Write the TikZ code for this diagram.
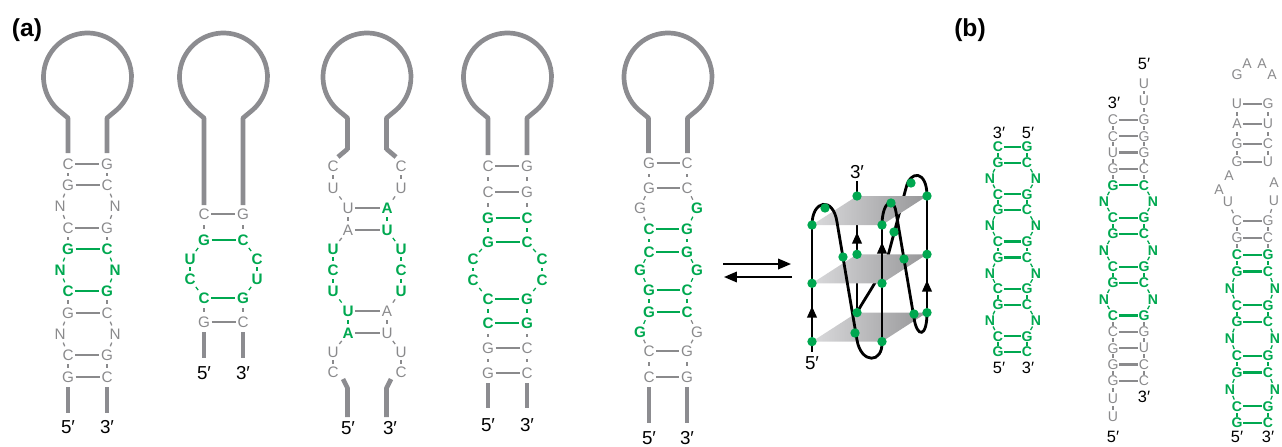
\documentclass[tikz,border=0pt]{standalone}
\usepackage{fontspec}
\setmainfont{Liberation Sans}
\usetikzlibrary{arrows.meta}

\definecolor{ntgray}{RGB}{138,138,140}
\definecolor{stemgray}{RGB}{140,140,144}
\definecolor{ntgreen}{RGB}{0,168,80}
\definecolor{sheetdark}{RGB}{150,150,152}
\definecolor{sheetlight}{RGB}{218,218,220}

% hairpin loop with its neck: #1 = centre x, #2 = lower end of the neck
\newcommand\hploop[2]{%
  \draw[stem] (#1-19.5,#2) -- (#1-19.5,118) -- ([shift={(228:1.32cm)}]#1,77)
    arc[start angle=228, end angle=-48, radius=1.32cm] -- (#1+19.5,118) -- (#1+19.5,#2);}
% backbone ticks down one column: #1 = column prefix, #2 = index/colour list
\newcommand\backbone[2]{%
  \foreach \i/\c in {#2} {\pgfmathtruncatemacro\j{\i+1}
    \path (#1\i) -- (#1\j) node[midway,tick,\c]{};}}
% base pair bonds: #1 = helix prefix, #2 = index/colour list
\newcommand\pairs[3][bond]{%
  \foreach \i/\c in {#3} {\draw[#1,\c] (#2a\i) -- (#2b\i);}}

\tikzset{
  nt/.style={inner sep=0.5pt, text=ntgray, font=\fontsize{13}{13}\selectfont},
  ntb/.style={inner sep=0.5pt, text=ntgray, font=\fontsize{12}{12}\selectfont},
  gy/.style={},
  gn/.style={text=ntgreen, font=\fontsize{13}{13}\selectfont\bfseries},
  gnb/.style={text=ntgreen, font=\fontsize{12}{12}\selectfont\bfseries},
  bond/.style={line width=1.6pt, shorten <=0.8pt, shorten >=0.8pt},
  bondb/.style={line width=2pt},
  tick/.style={fill, sloped, inner sep=0pt, minimum width=3.4pt, minimum height=1.1pt},
  stem/.style={line width=4pt, stemgray, line join=round},
  endlab/.style={inner sep=0pt, font=\fontsize{16}{16}\selectfont},
  endlabb/.style={inner sep=0pt, font=\fontsize{14}{14}\selectfont},
  panel/.style={font=\fontsize{21}{21}\selectfont\bfseries},
  gdot/.style={circle, fill=ntgreen, inner sep=0pt, minimum size=8pt},
  strand/.style={line width=2.4pt, black},
  upmark/.style={-{Triangle[length=10pt,width=8pt]}},
  eqarrow/.style={line width=1.5pt, -{Triangle[length=11pt,width=9pt]}},
}

\begin{document}
\begin{tikzpicture}[x=0.03cm, y=-0.03cm]
\useasboundingbox (0,0) rectangle (1282,447);

\node[panel] (pa) at (27,30) {(a)};
\node[panel] (pb) at (970,30) {(b)};

%% ---------------- hairpin 1
\hploop{87.5}{153}
\foreach \i/\y/\xa/\a/\sa/\xb/\b/\sb in {
  1/164/68/C/gy/107/G/gy, 2/185/68/G/gy/107/C/gy, 3/206/60/N/gy/115/N/gy,
  4/228/68/C/gy/107/G/gy, 5/249/68/G/gn/107/C/gn, 6/270/60/N/gn/115/N/gn,
  7/291/68/C/gn/107/G/gn, 8/313/68/G/gy/107/C/gy, 9/334/60/N/gy/115/N/gy,
  10/355/68/C/gy/107/G/gy, 11/377/68/G/gy/107/C/gy}
{
  \node[nt,\sa] (p1a\i) at (\xa,\y) {\a};
  \node[nt,\sb] (p1b\i) at (\xb,\y) {\b};
}
\pairs{p1}{1/ntgray,2/ntgray,4/ntgray,5/ntgreen,7/ntgreen,8/ntgray,10/ntgray,11/ntgray}
\backbone{p1a}{1/ntgray,2/ntgray,3/ntgray,4/ntgray,5/ntgreen,6/ntgreen,7/ntgray,8/ntgray,9/ntgray,10/ntgray}
\backbone{p1b}{1/ntgray,2/ntgray,3/ntgray,4/ntgray,5/ntgreen,6/ntgreen,7/ntgray,8/ntgray,9/ntgray,10/ntgray}
\node[endlab] (p1five) at (68,427) {5′};
\node[endlab] (p1three) at (107,427) {3′};
\draw[stem] (68,387) -- (68,413) (107,387) -- (107,413);

%% ---------------- hairpin 2
\hploop{223.5}{205}
\foreach \i/\y/\xa/\a/\sa/\xb/\b/\sb in {
  1/214/204/C/gy/243/G/gy, 2/240/204/G/gn/243/C/gn, 3/259/190/U/gn/257/C/gn,
  4/279/190/C/gn/257/U/gn, 5/298/204/C/gn/243/G/gn, 6/322/204/G/gy/243/C/gy}
{
  \node[nt,\sa] (p2a\i) at (\xa,\y) {\a};
  \node[nt,\sb] (p2b\i) at (\xb,\y) {\b};
}
\pairs{p2}{1/ntgray,2/ntgreen,5/ntgreen,6/ntgray}
\backbone{p2a}{1/ntgray,2/ntgreen,3/ntgreen,4/ntgreen,5/ntgray}
\backbone{p2b}{1/ntgray,2/ntgreen,3/ntgreen,4/ntgreen,5/ntgray}
\node[endlab] (p2five) at (204,373) {5′};
\node[endlab] (p2three) at (243,373) {3′};
\draw[stem] (204,332) -- (204,358) (243,332) -- (243,358);

%% ---------------- hairpin 3 (neck opens out)
\hploop{367}{150}
\draw[stem] (347.5,149) -- (338,157) (386.5,149) -- (396,157);
\foreach \i/\y/\xa/\a/\sa/\xb/\b/\sb in {
  1/166/333/C/gy/401/C/gy, 2/188/333/U/gy/401/U/gy, 3/208/348/U/gy/387/A/gn,
  4/230/348/A/gy/387/U/gn, 5/249/333/U/gn/401/U/gn, 6/270/333/C/gn/401/C/gn,
  7/291/333/U/gn/401/U/gn, 8/311/348/U/gn/387/A/gy, 9/333/348/A/gn/387/U/gy,
  10/352/333/U/gy/401/U/gy, 11/372/333/C/gy/401/C/gy}
{
  \node[nt,\sa] (p3a\i) at (\xa,\y) {\a};
  \node[nt,\sb] (p3b\i) at (\xb,\y) {\b};
}
\pairs{p3}{3/ntgray,4/ntgray,8/ntgray,9/ntgray}
\backbone{p3a}{1/ntgray,2/ntgray,3/ntgray,4/ntgray,5/ntgreen,6/ntgreen,7/ntgreen,8/ntgreen,9/ntgray,10/ntgray}
\backbone{p3b}{1/ntgray,2/ntgray,3/ntgreen,4/ntgreen,5/ntgreen,6/ntgreen,7/ntgray,8/ntgray,9/ntgray,10/ntgray}
\node[endlab] (p3five) at (348,428) {5′};
\node[endlab] (p3three) at (390,428) {3′};
\draw[stem] (343,379) -- (347.5,388) -- (347.5,417) (391,379) -- (386.5,388) -- (386.5,417);

%% ---------------- hairpin 4
\hploop{507.5}{155}
\foreach \i/\y/\xa/\a/\sa/\xb/\b/\sb in {
  1/166/488/C/gy/527/G/gy, 2/192/488/C/gy/527/G/gy, 3/218/488/G/gn/527/C/gn,
  4/242/488/G/gn/527/C/gn, 5/259/473/C/gn/542/C/gn, 6/280/473/C/gn/542/C/gn,
  7/299/488/C/gn/527/G/gn, 8/323/488/C/gn/527/G/gn, 9/348/488/G/gy/527/C/gy,
  10/373/488/G/gy/527/C/gy}
{
  \node[nt,\sa] (p4a\i) at (\xa,\y) {\a};
  \node[nt,\sb] (p4b\i) at (\xb,\y) {\b};
}
\pairs{p4}{1/ntgray,2/ntgray,3/ntgreen,4/ntgreen,7/ntgreen,8/ntgreen,9/ntgray,10/ntgray}
\backbone{p4a}{1/ntgray,2/ntgray,3/ntgreen,4/ntgreen,5/ntgreen,6/ntgreen,7/ntgreen,8/ntgray,9/ntgray}
\backbone{p4b}{1/ntgray,2/ntgray,3/ntgreen,4/ntgreen,5/ntgreen,6/ntgreen,7/ntgreen,8/ntgray,9/ntgray}
\node[endlab] (p4five) at (488,425) {5′};
\node[endlab] (p4three) at (527,425) {3′};
\draw[stem] (488,383) -- (488,408) (527,383) -- (527,408);

%% ---------------- hairpin 5
\hploop{668}{153}
\foreach \i/\y/\xa/\a/\sa/\xb/\b/\sb in {
  1/163/649/G/gy/687/C/gy, 2/188/649/G/gy/687/C/gy, 3/208/640/G/gy/697/G/gn,
  4/229/649/C/gn/687/G/gn, 5/252/649/C/gn/687/G/gn, 6/270/640/G/gn/697/G/gn,
  7/290/649/G/gn/687/C/gn, 8/312/649/G/gn/687/C/gn, 9/332/640/G/gn/697/G/gy,
  10/351/649/C/gy/687/G/gy, 11/377/649/C/gy/687/G/gy}
{
  \node[nt,\sa] (p5a\i) at (\xa,\y) {\a};
  \node[nt,\sb] (p5b\i) at (\xb,\y) {\b};
}
\pairs{p5}{1/ntgray,2/ntgray,4/ntgreen,5/ntgreen,7/ntgreen,8/ntgreen,10/ntgray,11/ntgray}
\backbone{p5a}{1/ntgray,2/ntgray,3/ntgray,4/ntgreen,5/ntgreen,6/ntgreen,7/ntgreen,8/ntgreen,9/ntgray,10/ntgray}
\backbone{p5b}{1/ntgray,2/ntgray,3/ntgreen,4/ntgreen,5/ntgreen,6/ntgreen,7/ntgreen,8/ntgray,9/ntgray,10/ntgray}
\node[endlab] (p5five) at (649,438) {5′};
\node[endlab] (p5three) at (687,438) {3′};
\draw[stem] (649,387) -- (649,423) (687,387) -- (687,423);

%% ---------------- equilibrium
\coordinate (eqa) at (723,264);
\coordinate (eqb) at (791,264);
\coordinate (eqc) at (792,277);
\coordinate (eqd) at (724,277);
\draw[eqarrow] (eqa) -- (eqb);
\draw[eqarrow] (eqc) -- (eqd);

%% ---------------- G-quadruplex
\foreach \k in {0,1,2} {
  \coordinate (fl\k) at (812,225+58.3*\k);
  \coordinate (fr\k) at (882,225+58.3*\k);
  \coordinate (bl\k) at (857,196+58.3*\k);
  \coordinate (br\k) at (927,196+58.3*\k);
}
% strands behind the tetrads
\draw[strand] (bl2) -- (bl0) -- (857,181);
\draw[strand] (br0) .. controls (927,170) and (910,170) .. (906,188) -- (889,252)
  .. controls (884,272) and (866,296) .. (bl2);
\foreach \k in {2,1,0}
  \path[left color=sheetlight, right color=sheetdark] (fl\k) -- (fr\k) -- (br\k) -- (bl\k) -- cycle;
\draw[strand,upmark] (857,250) -- (857,232);
% strands in front
\draw[strand] (812,352) -- (fl0);
\draw[strand] (fr2) -- (fr0);
\draw[strand] (br2) -- (br0);
\draw[strand] (fl0) .. controls (812,200) and (833,196) .. (837,222) -- (857,340)
  .. controls (861,364) and (883,364) .. (fr2);
\draw[strand] (fr0) .. controls (882,203) and (893,194) .. (896,212) -- (914,318)
  .. controls (917,338) and (927,338) .. (br2);
\draw[strand,upmark] (812,326) -- (812,306);
\draw[strand,upmark] (882,264) -- (882,242);
\draw[strand,upmark] (927,300) -- (927,280);
\foreach \p in {fl0,fl1,fl2,fr0,fr1,fr2,bl0,bl1,bl2,br0,br1,br2}
  \node[gdot] (d\p) at (\p) {};
\foreach \n/\x/\y in {la/825/208, lb/843/257, lc/855/333, ma/891/203, mb/894/232,
  mc/914/314, na/911/183, nb/904/259}
  \node[gdot] (d\n) at (\x,\y) {};
\node[endlab] (qthree) at (857,172) {3′};
\node[endlab] (qfive) at (812,363) {5′};

%% ---------------- panel b, duplex 1
\foreach \i/\y/\xa/\a/\xb/\b in {
  1/147/998/C/1027/G, 2/162.8/998/G/1027/C, 3/178.5/990/N/1036/N,
  4/194.3/998/C/1027/G, 5/210.1/998/G/1027/C, 6/225.9/990/N/1036/N,
  7/241.6/998/C/1027/G, 8/257.4/998/G/1027/C, 9/273.2/990/N/1036/N,
  10/288.9/998/C/1027/G, 11/304.7/998/G/1027/C, 12/320.5/990/N/1036/N,
  13/336.2/998/C/1027/G, 14/352/998/G/1027/C}
{
  \node[ntb,gnb] (q1a\i) at (\xa,\y) {\a};
  \node[ntb,gnb] (q1b\i) at (\xb,\y) {\b};
}
\pairs[bondb]{q1}{1/ntgreen,2/ntgreen,4/ntgreen,5/ntgreen,7/ntgreen,8/ntgreen,
  10/ntgreen,11/ntgreen,13/ntgreen,14/ntgreen}
\backbone{q1a}{1/ntgreen,2/ntgreen,3/ntgreen,4/ntgreen,5/ntgreen,6/ntgreen,7/ntgreen,
  8/ntgreen,9/ntgreen,10/ntgreen,11/ntgreen,12/ntgreen,13/ntgreen}
\backbone{q1b}{1/ntgreen,2/ntgreen,3/ntgreen,4/ntgreen,5/ntgreen,6/ntgreen,7/ntgreen,
  8/ntgreen,9/ntgreen,10/ntgreen,11/ntgreen,12/ntgreen,13/ntgreen}
\node[endlabb] at (999,133) {3′};
\node[endlabb] at (1028,133) {5′};
\node[endlabb] at (999,368) {5′};
\node[endlabb] at (1028,368) {3′};

%% ---------------- panel b, duplex 2
\foreach \i/\y/\xa/\a/\sa/\xb/\b/\sb in {
  1/120/1113/C/gy/1144/G/gy, 2/136.3/1113/C/gy/1144/G/gy, 3/152.6/1113/U/gy/1144/G/gy,
  4/168.9/1113/G/gy/1144/C/gy, 5/185.2/1113/G/gnb/1144/C/gnb, 6/201.5/1104/N/gnb/1153/N/gnb,
  7/217.8/1113/C/gnb/1144/G/gnb, 8/234.1/1113/G/gnb/1144/C/gnb, 9/250.4/1104/N/gnb/1153/N/gnb,
  10/266.7/1113/C/gnb/1144/G/gnb, 11/283/1113/G/gnb/1144/C/gnb, 12/299.3/1104/N/gnb/1153/N/gnb,
  13/315.6/1113/C/gnb/1144/G/gnb, 14/331.9/1113/C/gy/1144/G/gy, 15/348.2/1113/G/gy/1144/U/gy,
  16/364.5/1113/G/gy/1144/C/gy, 17/380.8/1113/G/gy/1144/C/gy}
{
  \node[ntb,\sa] (q2a\i) at (\xa,\y) {\a};
  \node[ntb,\sb] (q2b\i) at (\xb,\y) {\b};
}
\node[ntb] (q2b0) at (1144,101) {U};
\node[ntb] (q2bu) at (1144,84) {U};
\node[ntb] (q2a18) at (1113,399) {U};
\node[ntb] (q2a19) at (1113,417) {U};
\pairs[bondb]{q2}{1/ntgray,2/ntgray,3/ntgray,4/ntgray,5/ntgreen,7/ntgreen,8/ntgreen,
  10/ntgreen,11/ntgreen,13/ntgreen,14/ntgray,15/ntgray,16/ntgray,17/ntgray}
\backbone{q2a}{1/ntgray,2/ntgray,3/ntgray,4/ntgray,5/ntgreen,6/ntgreen,7/ntgreen,8/ntgreen,
  9/ntgreen,10/ntgreen,11/ntgreen,12/ntgreen,13/ntgray,14/ntgray,15/ntgray,16/ntgray,
  17/ntgray,18/ntgray}
\backbone{q2b}{0/ntgray,1/ntgray,2/ntgray,3/ntgray,4/ntgray,5/ntgreen,6/ntgreen,7/ntgreen,8/ntgreen,
  9/ntgreen,10/ntgreen,11/ntgreen,12/ntgreen,13/ntgray,14/ntgray,15/ntgray,16/ntgray}
\path (q2bu) -- (q2b0) node[midway,tick,ntgray]{};
\node[endlabb] at (1144,64) {5′};
\node[endlabb] at (1114,103) {3′};
\node[endlabb] at (1144,397) {3′};
\node[endlabb] at (1113,437) {5′};

%% ---------------- panel b, duplex 3
\foreach \i/\y/\xa/\a/\sa/\xb/\b/\sb in {
  1/221/1237/C/gy/1268/G/gy, 2/237.8/1237/G/gy/1268/C/gy, 3/254.7/1237/C/gnb/1268/G/gnb,
  4/271.5/1237/G/gnb/1268/C/gnb, 5/288.3/1230/N/gnb/1275/N/gnb, 6/305.2/1237/C/gnb/1268/G/gnb,
  7/322/1237/G/gnb/1268/C/gnb, 8/338.8/1230/N/gnb/1275/N/gnb, 9/355.7/1237/C/gnb/1268/G/gnb,
  10/372.5/1237/G/gnb/1268/C/gnb, 11/389.3/1230/N/gnb/1275/N/gnb, 12/406.2/1237/C/gnb/1268/G/gnb,
  13/423/1237/G/gnb/1268/C/gnb}
{
  \node[ntb,\sa] (q3a\i) at (\xa,\y) {\a};
  \node[ntb,\sb] (q3b\i) at (\xb,\y) {\b};
}
\pairs[bondb]{q3}{1/ntgray,2/ntgray,3/ntgreen,4/ntgreen,6/ntgreen,7/ntgreen,9/ntgreen,
  10/ntgreen,12/ntgreen,13/ntgreen}
\backbone{q3a}{1/ntgray,2/ntgray,3/ntgreen,4/ntgreen,5/ntgreen,6/ntgreen,7/ntgreen,8/ntgreen,
  9/ntgreen,10/ntgreen,11/ntgreen,12/ntgreen}
\backbone{q3b}{1/ntgray,2/ntgray,3/ntgreen,4/ntgreen,5/ntgreen,6/ntgreen,7/ntgreen,8/ntgreen,
  9/ntgreen,10/ntgreen,11/ntgreen,12/ntgreen}
% internal loop and upper hairpin
\foreach \n/\x/\y/\a in {q3a0/1228/202/U, q3ay/1219/190/A, q3ax/1229/176/A,
  q3b0/1274/201/U, q3by/1274/183/A,
  q3c4/1237/162/G, q3c3/1237/144/G, q3c2/1237/124/A, q3c1/1237/104/U,
  q3d4/1268/162/U, q3d3/1268/144/C, q3d2/1268/124/U, q3d1/1268/104/G,
  q3ha/1237/75/G, q3hb/1247/64/A, q3hc/1262/64/A, q3hd/1272/75/A}
  \node[ntb] (\n) at (\x,\y) {\a};
\foreach \i in {1,...,4} \draw[bondb,ntgray] (q3c\i) -- (q3d\i);
\backbone{q3c}{1/ntgray,2/ntgray,3/ntgray}
\backbone{q3d}{1/ntgray,2/ntgray,3/ntgray}
\path (q3a0) -- (q3a1) node[midway,tick,ntgray]{} (q3b0) -- (q3b1) node[midway,tick,ntgray]{};
\node[endlabb] at (1237,437) {5′};
\node[endlabb] at (1268,437) {3′};
\end{tikzpicture}
\end{document}
